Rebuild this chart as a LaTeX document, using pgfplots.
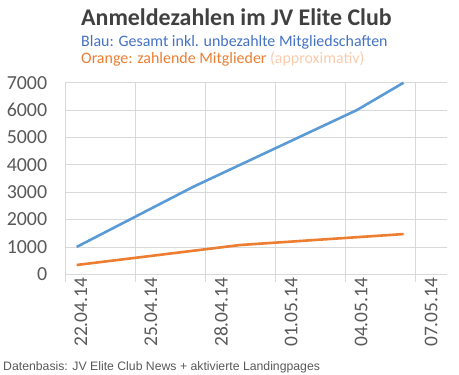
\documentclass[border=0pt]{standalone}
\usepackage{pgfplots}
\pgfplotsset{compat=1.18}
\usepackage{fontspec}
\setmainfont{Carlito}
\newfontfamily\arialfont{Liberation Sans}
\definecolor{xblue}{HTML}{5B9BD5}
\definecolor{xorange}{HTML}{ED7D31}
\definecolor{titlegray}{HTML}{404040}
\definecolor{tickgray}{HTML}{595959}
\definecolor{gridgray}{HTML}{D9D9D9}
\definecolor{subblue}{HTML}{4472C4}
\definecolor{lightorange}{HTML}{F8CBAD}
\begin{document}
\begin{tikzpicture}
\path[use as bounding box] (0bp,0bp) rectangle (459bp,375bp);
\begin{axis}[
  at={(65bp,100.7bp)}, anchor=south west,
  scale only axis, width=382bp, height=191.6bp,
  xmin=-0.5, xmax=15.86, ymin=0, ymax=7000,
  axis line style={draw=none},
  clip=false,
  xtick={-0.5,2.5,...,14.5}, xticklabels={},
  ytick={0,1000,...,7000},
  grid=major, major grid style={gridgray, line width=0.8bp},
  xtick pos=left, ytick pos=left,
  tick align=outside, major tick length=8bp,
  xtick style={draw=gridgray, line width=0.8bp},
  ytick style={draw=none},
  extra x ticks={0,3,...,15},
  extra x tick labels={22.04.14,25.04.14,28.04.14,01.05.14,04.05.14,07.05.14},
  extra x tick style={grid=none, major tick length=0pt, xtick style={draw=none}},
  /pgf/number format/assume math mode=true,
  /pgf/number format/1000 sep={},
  xticklabel style={rotate=90, anchor=east, yshift=-4.2bp, font=\fontsize{19.5}{21}\selectfont, text=tickgray},
  yticklabel style={xshift=-6.3bp, font=\fontsize{20}{24}\selectfont, text=tickgray},
]
\addplot[xblue, line width=2.6bp, line join=round] coordinates {(0,1000)(5,3200)(12,6000)(14,7000)};
\addplot[xorange, line width=2.6bp, line join=round] coordinates {(0,340)(7,1070)(14,1470)};
\end{axis}
\node[anchor=base west, inner sep=0, font=\bfseries\fontsize{24}{28}\selectfont, text=titlegray] at (81bp,349bp) {Anmeldezahlen im JV Elite Club};
\node[anchor=base west, inner sep=0, font=\fontsize{16}{18}\selectfont, text=subblue] at (81bp,328.3bp) {Blau: Gesamt inkl. unbezahlte Mitgliedschaften};
\node[anchor=base west, inner sep=0, font=\fontsize{16}{18}\selectfont, text=xorange] at (81bp,311.7bp) {Orange: zahlende Mitglieder \textcolor{lightorange}{(approximativ)}};
\node[anchor=base west, inner sep=0, font=\arialfont\fontsize{12.3}{14}\selectfont, text=tickgray] at (3bp,5bp) {Datenbasis: JV Elite Club News + aktivierte Landingpages};
\end{tikzpicture}
\end{document}
